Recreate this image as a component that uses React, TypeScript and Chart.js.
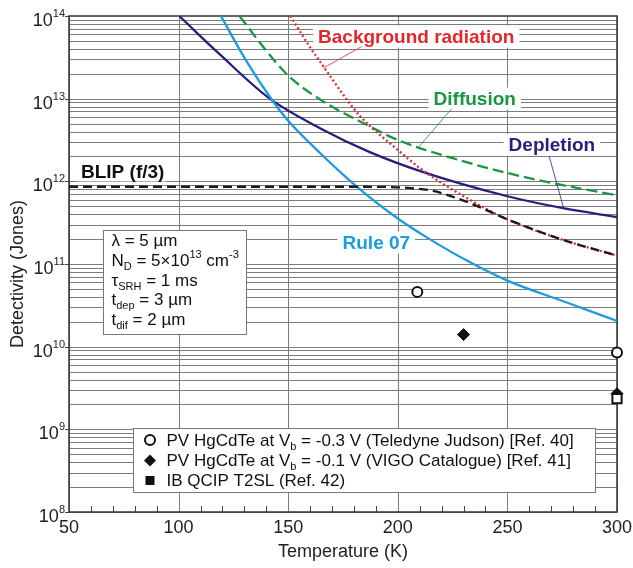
import React, { useEffect, useRef } from 'react';
import { Chart, registerables } from 'chart.js';

Chart.register(...registerables);

// ---- data (temperature K, detectivity Jones) ----
const rule07T = [119.3, 130.6, 142.8, 150, 164.5, 177.2, 187.5, 200, 213.2, 231.5, 250, 277.4, 300];
const rule07D = [1.0e14, 2.95e13, 9.5e12, 5.4e12, 2.2e12, 1.07e12, 6.3e11, 3.55e11, 2.1e11, 1.1e11, 6.3e10, 3.4e10, 2.05e10];

const depletionT = [100.3, 118.7, 141.6, 164.5, 187.5, 210.6, 250, 276, 300];
const depletionD = [1.0e14, 3.45e13, 1.0e13, 4.4e12, 2.24e12, 1.32e12, 6.6e11, 4.7e11, 3.7e11];

const diffusionT = [127.8, 140, 150, 164.5, 187.5, 200, 228.8, 250, 274.3, 300];
const diffusionD = [1.0e14, 3.8e13, 1.9e13, 9.8e12, 4.57e12, 3.16e12, 1.78e12, 1.26e12, 9.1e11, 6.76e11];

const backgroundT = [151, 160, 166.1, 175.3, 183.2, 200, 210.6, 228.8, 250, 274.3, 300];
const backgroundD = [1.0e14, 4.17e13, 2.45e13, 1.1e13, 6.0e12, 2.4e12, 1.41e12, 6.9e11, 3.47e11, 2.0e11, 1.26e11];

const blipT = [50, 180, 195, 205.8, 216.6, 228.8, 238, 250, 274.3, 300];
const blipD = [8.6e11, 8.6e11, 8.55e11, 8.3e11, 7.6e11, 6.0e11, 4.8e11, 3.47e11, 2.0e11, 1.26e11];

const teledyneT = [208.9, 300];
const teledyneD = [4.6e10, 8.5e9];
const vigoT = [230, 300];
const vigoD = [1.4e10, 2.7e9];
const qcipT = [300];
const qcipD = [2.35e9];

const xMajorTicks = [50, 100, 150, 200, 250, 300];
const yDecades = [8, 9, 10, 11, 12, 13, 14];

const FONT = '"Liberation Sans", Arial, Helvetica, sans-serif';
const GRID = '#7c7c7c';
const C_RULE = '#1b9be0';
const C_DEP = '#2b1c7d';
const C_DIF = '#17973f';
const C_BG = '#e3272b';
const C_BLIP = '#1a1a1a';

type Seg = { t: string; k?: 'sub' | 'sup' };

function richWidth(ctx: CanvasRenderingContext2D, segs: Seg[], size: number, small: number) {
  let w = 0;
  for (const s of segs) {
    ctx.font = `${s.k ? small : size}px ${FONT}`;
    w += ctx.measureText(s.t).width;
  }
  return w;
}

function drawRich(
  ctx: CanvasRenderingContext2D, segs: Seg[], x: number, y: number, size: number, small: number,
  color: string, align: 'left' | 'right' = 'left', supOff = 0.45, subOff = 0.25
) {
  ctx.fillStyle = color;
  ctx.textBaseline = 'alphabetic';
  ctx.textAlign = 'left';
  let cx = x;
  if (align === 'right') cx = x - richWidth(ctx, segs, size, small);
  for (const s of segs) {
    ctx.font = `${s.k ? small : size}px ${FONT}`;
    const dy = s.k === 'sup' ? -size * supOff : s.k === 'sub' ? size * subOff : 0;
    ctx.fillText(s.t, cx, y + dy);
    cx += ctx.measureText(s.t).width;
  }
}

function toPts(T: number[], D: number[]) {
  return T.map((t, i) => ({ x: t, y: D[i] }));
}

const customPlugin = {
  id: 'customDraw',
  beforeDatasetsDraw(chart: any) {
    const { ctx, chartArea: a, scales } = chart;
    const xs = scales.x;
    const ys = scales.y;
    const px = (t: number) => xs.getPixelForValue(t);
    const py = (v: number) => ys.getPixelForValue(v);
    ctx.save();

    // grid lines
    ctx.strokeStyle = GRID;
    ctx.lineWidth = 1;
    ctx.beginPath();
    for (let e = 8; e < 14; e++) {
      for (let m = 1; m <= 9; m++) {
        const yy = Math.round(py(m * Math.pow(10, e))) + 0.5;
        ctx.moveTo(a.left, yy);
        ctx.lineTo(a.right, yy);
      }
    }
    for (const t of xMajorTicks) {
      const xx = Math.round(px(t)) + 0.5;
      ctx.moveTo(xx, a.top);
      ctx.lineTo(xx, a.bottom);
    }
    ctx.stroke();

    // minor x ticks (inward) and outward y decade ticks
    ctx.strokeStyle = '#444';
    ctx.beginPath();
    for (let t = 60; t < 300; t += 10) {
      if (t % 50 === 0) continue;
      const xx = Math.round(px(t)) + 0.5;
      ctx.moveTo(xx, a.bottom);
      ctx.lineTo(xx, a.bottom - 6);
    }
    for (const e of yDecades) {
      const yy = Math.round(py(Math.pow(10, e))) + 0.5;
      ctx.moveTo(a.left - 4, yy);
      ctx.lineTo(a.left, yy);
    }
    ctx.stroke();

    // frame
    ctx.strokeStyle = '#333';
    ctx.lineWidth = 1.5;
    ctx.strokeRect(a.left, a.top, a.right - a.left, a.bottom - a.top);

    // curve labels with white background
    const label = (text: string, cx: number, cy: number, color: string, padX = 5) => {
      ctx.font = `bold 19px ${FONT}`;
      const w = ctx.measureText(text).width;
      ctx.fillStyle = '#fff';
      ctx.fillRect(cx - w / 2 - padX, cy - 11, w + padX * 2, 22);
      ctx.fillStyle = color;
      ctx.textAlign = 'center';
      ctx.textBaseline = 'middle';
      ctx.fillText(text, cx, cy + 1);
    };
    const leader = (t1: number, v1: number, t2: number, v2: number, color: string) => {
      ctx.strokeStyle = color;
      ctx.lineWidth = 0.8;
      ctx.beginPath();
      ctx.moveTo(px(t1), py(v1));
      ctx.lineTo(px(t2), py(v2));
      ctx.stroke();
    };
    label('Background radiation', px(208.4), py(Math.pow(10, 13.75)), C_BG);
    leader(183.5, Math.pow(10, 13.63), 166.0, Math.pow(10, 13.37), C_BG);
    label('Diffusion', px(235.1), py(Math.pow(10, 13.0)), C_DIF);
    leader(224.6, Math.pow(10, 12.88), 209.7, Math.pow(10, 12.42), C_DIF);
    label('Depletion', px(270.3), py(Math.pow(10, 12.44)), C_DEP);
    leader(269.1, Math.pow(10, 12.30), 275.5, Math.pow(10, 11.69), C_DEP);
    label('Rule 07', px(190.2), py(Math.pow(10, 11.26)), C_RULE);
    {
      ctx.font = `bold 19px ${FONT}`;
      const t = 'BLIP (f/3)';
      const w = ctx.measureText(t).width;
      const lx = a.left + 12;
      const cy = py(Math.pow(10, 12.12));
      ctx.fillStyle = '#fff';
      ctx.fillRect(lx - 4, cy - 11, w + 6, 21);
      ctx.fillStyle = '#111';
      ctx.textAlign = 'left';
      ctx.textBaseline = 'middle';
      ctx.fillText(t, lx, cy + 1);
    }

    // parameter box
    {
      const bx = 103.5, by = 230.5, bw = 143, bh = 104;
      ctx.fillStyle = '#fff';
      ctx.fillRect(bx, by, bw, bh);
      ctx.strokeStyle = '#777';
      ctx.lineWidth = 1;
      ctx.strokeRect(bx, by, bw, bh);
      const tx = 111.5;
      const s = 17, sm = 11;
      drawRich(ctx, [{ t: 'λ = 5 µm' }], tx, 246, s, sm, '#111');
      drawRich(ctx, [{ t: 'N' }, { t: 'D', k: 'sub' }, { t: ' = 5×10' }, { t: '13', k: 'sup' }, { t: ' cm' }, { t: '-3', k: 'sup' }], tx, 266, s, sm, '#111');
      drawRich(ctx, [{ t: 'τ' }, { t: 'SRH', k: 'sub' }, { t: ' = 1 ms' }], tx, 285.5, s, sm, '#111');
      drawRich(ctx, [{ t: 't' }, { t: 'dep', k: 'sub' }, { t: ' = 3 µm' }], tx, 305, s, sm, '#111');
      drawRich(ctx, [{ t: 't' }, { t: 'dif', k: 'sub' }, { t: ' = 2 µm' }], tx, 324.5, s, sm, '#111');
    }

    // legend box
    {
      const bx = 133.5, by = 428.5, bw = 462, bh = 64;
      ctx.fillStyle = '#fff';
      ctx.fillRect(bx, by, bw, bh);
      ctx.strokeStyle = '#777';
      ctx.lineWidth = 1;
      ctx.strokeRect(bx, by, bw, bh);
      const mx = 150, tx = 166.5;
      const rows = [445.5, 466, 486];
      ctx.beginPath();
      ctx.arc(mx, rows[0] - 5.5, 5, 0, Math.PI * 2);
      ctx.fillStyle = '#fff';
      ctx.fill();
      ctx.strokeStyle = '#111';
      ctx.lineWidth = 2;
      ctx.stroke();
      ctx.beginPath();
      const dy = rows[1] - 5.5;
      ctx.moveTo(mx, dy - 6);
      ctx.lineTo(mx + 6, dy);
      ctx.lineTo(mx, dy + 6);
      ctx.lineTo(mx - 6, dy);
      ctx.closePath();
      ctx.fillStyle = '#111';
      ctx.fill();
      ctx.fillRect(mx - 4.5, rows[2] - 10, 9, 9);
      const s = 17, sm = 11;
      drawRich(ctx, [{ t: 'PV HgCdTe at V' }, { t: 'b', k: 'sub' }, { t: ' = -0.3 V (Teledyne Judson) [Ref. 40]' }], tx, rows[0], s, sm, '#111');
      drawRich(ctx, [{ t: 'PV HgCdTe at V' }, { t: 'b', k: 'sub' }, { t: ' = -0.1 V (VIGO Catalogue) [Ref. 41]' }], tx, rows[1], s, sm, '#111');
      drawRich(ctx, [{ t: 'IB QCIP T2SL (Ref. 42)' }], tx, rows[2], s, sm, '#111');
    }

    // x tick labels
    ctx.fillStyle = '#222';
    ctx.font = `18px ${FONT}`;
    ctx.textAlign = 'center';
    ctx.textBaseline = 'middle';
    for (const t of xMajorTicks) {
      ctx.fillText(String(t), px(t), a.bottom + 16);
    }
    ctx.fillText('Temperature (K)', (a.left + a.right) / 2, 552);

    // y tick labels
    for (const e of yDecades) {
      const yy = py(Math.pow(10, e));
      drawRich(ctx, [{ t: '10' }, { t: String(e), k: 'sup' }], 65, yy + 10, 18, 11, '#222', 'right', 0.5);
    }
    // y title
    ctx.save();
    ctx.translate(18, 274);
    ctx.rotate(-Math.PI / 2);
    ctx.font = `18px ${FONT}`;
    ctx.fillStyle = '#222';
    ctx.textAlign = 'center';
    ctx.textBaseline = 'middle';
    ctx.fillText('Detectivity (Jones)', 0, 0);
    ctx.restore();

    ctx.restore();
  },
};

export default function App() {
  const ref = useRef<HTMLCanvasElement | null>(null);

  useEffect(() => {
    document.body.style.margin = '0';
    const canvas = ref.current;
    if (!canvas) return;
    const lineDs = (label: string, T: number[], D: number[], color: string, width: number, dash: number[]) => ({
      type: 'line' as const,
      label,
      data: toPts(T, D),
      borderColor: color,
      borderWidth: width,
      borderDash: dash,
      pointRadius: 0,
      cubicInterpolationMode: 'monotone' as const,
      fill: false,
    });
    const chart = new Chart(canvas, {
      type: 'line',
      data: {
        datasets: [
          {
            type: 'scatter',
            label: 'IB QCIP T2SL (Ref. 42)',
            data: toPts(qcipT, qcipD),
            pointStyle: 'rect',
            pointRadius: 6.5,
            pointBackgroundColor: '#fff',
            pointBorderColor: '#111',
            pointBorderWidth: 2,
            showLine: false,
            clip: false,
          } as any,
          {
            type: 'scatter',
            label: 'PV HgCdTe -0.1 V (VIGO)',
            data: toPts(vigoT, vigoD),
            pointStyle: 'rectRot',
            pointRadius: 6,
            pointBackgroundColor: '#111',
            pointBorderColor: '#111',
            pointBorderWidth: 1,
            showLine: false,
            clip: false,
          } as any,
          {
            type: 'scatter',
            label: 'PV HgCdTe -0.3 V (Teledyne Judson)',
            data: toPts(teledyneT, teledyneD),
            pointStyle: 'circle',
            pointRadius: 5,
            pointBackgroundColor: '#fff',
            pointBorderColor: '#111',
            pointBorderWidth: 2,
            showLine: false,
            clip: false,
          } as any,
          lineDs('BLIP (f/3)', blipT, blipD, C_BLIP, 2.3, [9, 5]),
          lineDs('Background radiation', backgroundT, backgroundD, C_BG, 2.3, [2, 2.5]),
          lineDs('Rule 07', rule07T, rule07D, C_RULE, 2.3, []),
          lineDs('Depletion', depletionT, depletionD, C_DEP, 2.3, []),
          lineDs('Diffusion', diffusionT, diffusionD, C_DIF, 2.3, [11, 5]),
        ],
      },
      options: {
        responsive: false,
        animation: false,
        devicePixelRatio: 1,
        layout: { padding: { top: 16, right: 16, left: 0, bottom: 0 } },
        plugins: { legend: { display: false }, tooltip: { enabled: false } },
        scales: {
          x: {
            type: 'linear',
            min: 50,
            max: 300,
            grid: { display: false },
            border: { display: false },
            ticks: { display: false },
            afterFit: (s: any) => { s.height = 56; },
          },
          y: {
            type: 'logarithmic',
            min: 1e8,
            max: 1e14,
            grid: { display: false },
            border: { display: false },
            ticks: { display: false },
            afterFit: (s: any) => { s.width = 69; },
          },
        },
      },
      plugins: [customPlugin],
    } as any);
    return () => chart.destroy();
  }, []);

  return (
    <div style={{ width: 633, height: 568, background: '#fff' }}>
      <canvas ref={ref} width={633} height={568} style={{ display: 'block' }} />
    </div>
  );
}
